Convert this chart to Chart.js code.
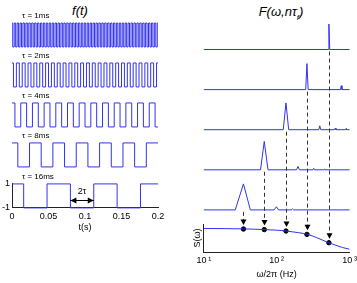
<!DOCTYPE html>
<html>
<head>
<meta charset="utf-8">
<script src="https://cdn.jsdelivr.net/npm/chart.js@4.4.1/dist/chart.umd.min.js"></script>
<style>
  html, body { margin: 0; padding: 0; background: #fff; }
  #fig { position: relative; width: 357px; height: 283px; overflow: hidden; font-family: "Liberation Sans", Arial, sans-serif; }
  canvas { position: absolute; top: 0; }
  #left { left: 0; }
  #right { left: 180px; }
  .ttl { position: absolute; font-style: italic; font-size: 13px; white-space: nowrap; transform: translateX(-50%); line-height: 14px; }
  .ttl sub { font-size: 8px; }
</style>
</head>
<body>
<div id="fig">
  <div class="ttl" style="left:80px; top:4px">f(t)</div>
  <div class="ttl" style="left:281px; top:5px">F(ω,nτ<sub>f</sub>)</div>
  <canvas id="left" width="178" height="283"></canvas>
  <!-- a little wider than the window so the last tick label can sit at the edge -->
  <canvas id="right" width="180" height="283"></canvas>
</div>
<script>
// left: square waves, one per tau (ms)
const tauMs = [1, 2, 4, 8, 16];
const tauLabels = ["τ = 1ms", "τ = 2ms", "τ = 4ms", "τ = 8ms", "τ = 16ms"];
const timeTicks = [0, 0.05, 0.1, 0.15, 0.2];
const timeTickLabels = ["0", "0.05", "0.1", "0.15", "0.2"];
const levelTicks = [-1, 1];

// right: spectra (Hz, relative amplitude), top row first
const specFreq1 = [10, 508, 520, 534, 1000];
const specAmp1 = [0, 0, 0.98, 0, 0];
const specFreq2 = [10, 250, 260, 270, 750, 768, 786, 1000];
const specAmp2 = [0, 0, 1, 0, 0, 0.15, 0, 0];
const specFreq4 = [10, 123, 134, 146, 378, 390, 402, 620, 635, 650, 878, 893, 908, 1000];
const specAmp4 = [0, 0, 1.03, 0, 0, 0.15, 0, 0, 0.06, 0, 0, 0.04, 0, 0];
const specFreq8 = [10, 60, 67.5, 76, 187, 196, 205, 314, 322, 330, 442, 450, 458, 1000];
const specAmp8 = [0, 0, 1.09, 0, 0, 0.13, 0, 0, 0.055, 0, 0, 0.02, 0, 0];
const specFreq16 = [10, 27, 35, 43.5, 92, 99, 106, 158, 164, 170, 1000];
const specAmp16 = [0, 0, 1, 0, 0, 0.12, 0, 0, 0.04, 0, 0];

// S(omega) curve and the sampled points
const sFreq = [10, 20, 35, 50, 67, 100, 135, 200, 265, 350, 430, 520, 650, 800, 1000];
const sValue = [0.84, 0.835, 0.825, 0.815, 0.80, 0.78, 0.75, 0.69, 0.63, 0.52, 0.42, 0.33, 0.24, 0.16, 0.10];
const peakFreq = [520, 260, 134, 67.5, 35];
const peakS = [0.33, 0.63, 0.75, 0.80, 0.82];
const freqTicks = [10, 100, 1000];
const freqTickLabels = ["10\u2009¹", "10\u2009²", "10\u2009³"];

const blue = "rgb(50,50,242)";
Chart.defaults.font.family = '"Liberation Sans", Arial, sans-serif';
Chart.defaults.font.size = 9;
Chart.defaults.color = "#000";

const tMax = 0.2;
const rowGapL = 40 / 12;   // wave rows, in wave units
const offsetL = (k) => -k * rowGapL;

// ideal square wave of parameter tau: high until tau, then flips every 2*tau
function squareWave(tau, shift) {
  const pts = [{ x: 0, y: 1 + shift }];
  let v = 1;
  for (let e = tau; e < tMax * 1000; e += 2 * tau) {
    v = -v;
    pts.push({ x: e / 1000, y: v + shift });
  }
  pts.push({ x: tMax, y: v + shift });
  return pts;
}

const waveNotes = {
  id: "waveNotes",
  afterDatasetsDraw(chart) {
    const { ctx, scales: { x, yT, yB } } = chart;
    ctx.save();
    ctx.fillStyle = "#000";
    ctx.font = '8px "Liberation Sans", Arial, sans-serif';
    ctx.textBaseline = "middle";
    tauLabels.forEach((lab, k) => {
      const top = k < 4 ? yT.getPixelForValue(offsetL(k) + 1) : yB.getPixelForValue(1);
      ctx.fillText(lab, x.getPixelForValue(0) + 10, top - 7.5);
    });
    // 2tau span on the slowest wave
    const tau = tauMs[4] / 1000;
    const x1 = x.getPixelForValue(5 * tau), x2 = x.getPixelForValue(7 * tau);
    const y = Math.round(yB.getPixelForValue(-0.33)) + 0.5;
    ctx.strokeStyle = "#000";
    ctx.lineWidth = 1;
    ctx.beginPath(); ctx.moveTo(x1, y); ctx.lineTo(x2, y); ctx.stroke();
    ctx.beginPath();
    ctx.moveTo(x1, y); ctx.lineTo(x1 + 6, y - 3); ctx.lineTo(x1 + 6, y + 3); ctx.closePath();
    ctx.moveTo(x2, y); ctx.lineTo(x2 - 6, y - 3); ctx.lineTo(x2 - 6, y + 3); ctx.closePath();
    ctx.fill();
    ctx.font = '9px "Liberation Sans", Arial, sans-serif';
    ctx.textAlign = "center";
    ctx.fillText("2τ", (x1 + x2) / 2, y - 9);
    ctx.restore();
  }
};

new Chart(document.getElementById("left"), {
  type: "line",
  data: {
    datasets: tauMs.map((tau, k) => ({
      data: squareWave(tau, k < 4 ? offsetL(k) : 0),
      yAxisID: k < 4 ? "yT" : "yB",
      borderColor: blue,
      borderWidth: 1,
      pointRadius: 0,
      stepped: true,
      clip: false,
    })),
  },
  options: {
    responsive: false,
    animation: false,
    layout: { padding: { left: 0, right: 20, top: 23, bottom: 50 } },
    plugins: { legend: { display: false }, tooltip: { enabled: false } },
    scales: {
      x: {
        type: "linear", min: 0, max: tMax,
        afterBuildTicks: (s) => { s.ticks = timeTicks.map((v) => ({ value: v })); },
        ticks: {
          padding: 3.5, maxRotation: 0, autoSkip: false,
          callback: (v) => timeTickLabels[timeTicks.indexOf(v)],
        },
        grid: { display: false, drawTicks: false },
        border: { color: "#222" },
        title: { display: true, text: "t(s)", padding: { top: -3.5, bottom: 0 } },
      },
      yB: {
        position: "left", stack: "L", stackWeight: 24, min: -1, max: 1,
        afterBuildTicks: (s) => { s.ticks = levelTicks.map((v) => ({ value: v })); },
        ticks: { padding: 2, autoSkip: false },
        grid: { display: false, drawTicks: false },
        border: { color: "#222" },
      },
      yT: {
        position: "left", stack: "L", stackWeight: 161, display: false,
        min: 1 - 161 / 12, max: 1,
      },
    },
  },
  plugins: [waveNotes],
});

const rowGapR = 40.1 / 26;  // spectrum rows, in peak units
const offsetR = (k) => (4 - k) * rowGapR;
const spectra = [
  [specFreq1, specAmp1], [specFreq2, specAmp2], [specFreq4, specAmp4],
  [specFreq8, specAmp8], [specFreq16, specAmp16],
];

const peakArrows = {
  id: "peakArrows",
  afterDatasetsDraw(chart) {
    const { ctx, scales: { x, yP, yS } } = chart;
    ctx.save();
    peakFreq.forEach((f, k) => {
      const px = Math.round(x.getPixelForValue(f)) + 0.5;
      const yTop = yP.getPixelForValue(offsetR(k)) + 2;
      const yTip = yS.getPixelForValue(peakS[k]) - 4;
      ctx.strokeStyle = "#333";
      ctx.lineWidth = 1;
      ctx.setLineDash([4, 3]);
      ctx.beginPath(); ctx.moveTo(px, yTop); ctx.lineTo(px, yTip - 4); ctx.stroke();
      ctx.setLineDash([]);
      ctx.fillStyle = "#000";
      ctx.beginPath();
      ctx.moveTo(px, yTip); ctx.lineTo(px - 3, yTip - 5.5); ctx.lineTo(px + 3, yTip - 5.5); ctx.closePath();
      ctx.fill();
    });
    ctx.restore();
  }
};

new Chart(document.getElementById("right"), {
  type: "line",
  data: {
    datasets: [
      ...spectra.map(([fr, amp], k) => ({
        data: fr.map((f, i) => ({ x: f, y: amp[i] + offsetR(k) })),
        yAxisID: "yP",
        borderColor: blue,
        borderWidth: 1,
        pointRadius: 0,
        clip: false,
      })),
      {
        data: sFreq.map((f, i) => ({ x: f, y: sValue[i] })),
        yAxisID: "yS",
        borderColor: blue,
        borderWidth: 1,
        pointRadius: 0,
        cubicInterpolationMode: "monotone",
      },
      {
        data: peakFreq.map((f, i) => ({ x: f, y: peakS[i] })),
        yAxisID: "yS",
        showLine: false,
        pointRadius: 2.2,
        pointBackgroundColor: "#000",
        pointBorderColor: "#000",
      },
    ],
  },
  options: {
    responsive: false,
    animation: false,
    layout: { padding: { left: 12, right: 6, top: 20, bottom: 3.4 } },
    plugins: { legend: { display: false }, tooltip: { enabled: false } },
    scales: {
      x: {
        type: "logarithmic", min: 10, max: 1000,
        afterBuildTicks: (s) => { s.ticks = freqTicks.map((v) => ({ value: v })); },
        ticks: {
          padding: 3, maxRotation: 0, autoSkip: false,
          callback: (v) => freqTickLabels[freqTicks.indexOf(v)],
        },
        grid: { display: false, drawTicks: false },
        border: { color: "#222" },
        title: { display: true, text: "ω/2π (Hz)", padding: { top: 0, bottom: 0 } },
      },
      yS: {
        position: "left", stack: "R", stackWeight: 28, min: 0, max: 1,
        ticks: { display: false },
        grid: { display: false, drawTicks: false },
        border: { color: "#222" },
        title: { display: true, text: "S(ω)", padding: { top: 0, bottom: 1 } },
      },
      yP: {
        position: "left", stack: "R", stackWeight: 204, display: false,
        min: -14.1 / 26, max: -14.1 / 26 + 204 / 26,
      },
    },
  },
  plugins: [peakArrows],
});
</script>
</body>
</html>
